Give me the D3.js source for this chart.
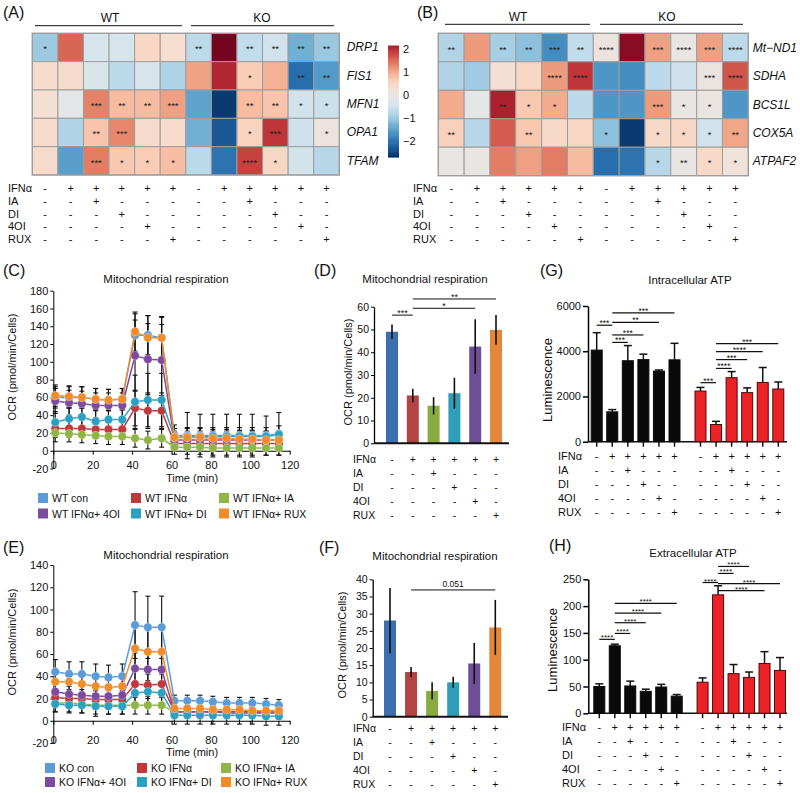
<!DOCTYPE html>
<html>
<head>
<meta charset="utf-8">
<script src="https://cdn.jsdelivr.net/npm/d3@7"></script>
<style>
  body { margin: 0; background: #fff; }
  svg { display: block; font-family: Arial, "Liberation Sans", sans-serif; }
</style>
</head>
<body>
<div id="fig"></div>
<script>
// ---------- data ----------
const conditions = ["IFNα", "IA", "DI", "4OI", "RUX"];
const signs = [
  ["-", "+", "+", "+", "+", "+"],
  ["-", "-", "+", "-", "-", "-"],
  ["-", "-", "-", "+", "-", "-"],
  ["-", "-", "-", "-", "+", "-"],
  ["-", "-", "-", "-", "-", "+"]
];
const signs12 = signs.map(r => r.concat(r));

// heatmap A (z-scores), columns: WT con..RUX, KO con..RUX
const genesA = ["DRP1", "FIS1", "MFN1", "OPA1", "TFAM"];
const zA = [
  [-0.97, 1.57, -0.38, -0.38, 0.49, 0.35, -0.7, 2.6, -0.65, -0.45, -1.3, -1.0],
  [0.4, 0.4, -0.3, -0.7, -0.35, -0.85, 1.08, 2.1, 0.65, 0.95, -2.05, -1.55],
  [0.3, -0.1, 1.35, 0.85, 0.85, 1.1, -1.45, -2.6, 0.85, 0.75, -0.45, -0.55],
  [0.4, -0.8, 0.75, 1.3, 0.4, 0.4, -1.3, -2.3, 0.55, 1.95, -0.5, 0.1],
  [0.4, -1.5, 1.4, 0.7, 0.65, 0.82, -0.72, -2.0, 1.85, 0.5, -0.42, -0.75]
];
const starsA = [
  ["*", "", "", "", "", "", "**", "", "**", "**", "**", "**"],
  ["", "", "", "", "", "", "", "", "*", "", "**", "**"],
  ["", "", "***", "**", "**", "***", "", "", "**", "**", "*", "*"],
  ["", "", "**", "***", "", "", "", "", "*", "***", "", "*"],
  ["", "", "***", "*", "*", "*", "", "", "****", "*", "", ""]
];

// heatmap B
const genesB = ["Mt\u2212ND1", "SDHA", "BCS1L", "COX5A", "ATPAF2"];
const zB = [
  [-0.8, 1.15, -0.9, -1.1, -1.7, -0.65, 0.1, 2.45, 1.1, 0.0, 1.1, -0.7],
  [-0.8, -0.95, 0.3, 0.5, 1.15, 1.95, -1.6, -1.7, -0.7, -0.5, 0.05, 1.7],
  [1.0, -0.1, 2.15, 0.7, 1.0, -0.7, -1.6, -1.6, 1.15, 0.0, 0.05, -1.6],
  [0.6, -0.75, 1.65, 0.7, 0.45, 0.5, -1.1, -2.6, 0.45, 0.5, -0.45, 1.05],
  [0.0, 0.0, 1.4, 1.1, 1.4, 0.85, -2.05, -2.0, -0.75, 0.0, 0.45, 0.2]
];
const starsB = [
  ["**", "", "**", "**", "***", "**", "****", "", "***", "****", "***", "****"],
  ["", "", "", "", "****", "****", "", "", "", "", "***", "****"],
  ["", "", "**", "*", "*", "", "", "", "***", "*", "*", ""],
  ["**", "", "", "**", "", "", "*", "", "*", "*", "*", "**"],
  ["", "", "", "", "", "", "", "", "*", "**", "*", "*"]
];
const colorbarTicks = [2, 1, 0, -1, -2];

// Seahorse time courses (min)
const times = [1, 8, 14.5, 21.5, 28, 35, 41.5, 48, 55, 61.5, 68, 74.5, 81, 88, 94.5, 101, 108, 114.5];
const groupNames = ["con", "IFNα", "IFNα+ IA", "IFNα+ 4OI", "IFNα+ DI", "IFNα+ RUX"];

const wtCon = [60, 60, 60, 58, 57, 58, 130, 130, 127, 17, 17, 17, 17, 17, 17, 17, 17, 19];
const wtIfn = [25, 25, 25, 24, 24, 24, 48, 45, 45, 8, 8, 8, 8, 8, 8, 8, 8, 8];
const wtIa = [20, 19, 18, 17, 16, 16, 14, 12, 14, 4, 4, 4, 3, 3, 3, 3, 3, 3];
const wt4oi = [56, 54, 53, 51, 51, 51, 107, 103, 102, 12, 12, 12, 12, 12, 12, 12, 12, 12];
const wtDi = [32, 36, 38, 33, 35, 35, 55, 57, 57, 15, 16, 16, 16, 16, 16, 16, 16, 18];
const wtRux = [62, 61, 60, 58, 57, 58, 134, 127, 127, 15, 15, 15, 14, 14, 13, 13, 12, 12];
const wtConErr = [12, 12, 12, 12, 12, 12, 24, 22, 24, 12, 26, 24, 24, 24, 24, 24, 22, 24];
const wtIfnErr = [10, 10, 10, 10, 10, 10, 20, 20, 20, 8, 8, 8, 8, 8, 8, 8, 8, 8];
const wtIaErr = [10, 9, 9, 9, 9, 9, 10, 10, 10, 8, 8, 8, 8, 8, 8, 8, 8, 8];
const wt4oiErr = [14, 14, 14, 14, 14, 14, 40, 40, 40, 10, 10, 10, 10, 10, 10, 10, 10, 10];
const wtDiErr = [12, 12, 12, 12, 12, 12, 30, 30, 30, 10, 10, 10, 10, 10, 10, 10, 10, 10];
const wtRuxErr = [12, 12, 12, 12, 12, 12, 22, 25, 23, 10, 10, 10, 10, 10, 10, 10, 10, 10];

const koCon = [44, 42, 42, 40, 39, 40, 86, 84, 84, 18, 18, 18, 17, 16, 16, 16, 15, 14];
const koIfn = [21, 20, 20, 19, 19, 19, 33, 32, 33, 8, 8, 8, 8, 7, 7, 7, 7, 7];
const koIa = [16, 16, 15, 14, 14, 14, 14, 14, 14, 8, 8, 8, 8, 8, 8, 8, 8, 8];
const ko4oi = [26, 24, 23, 22, 22, 23, 47, 46, 46, 8, 8, 8, 8, 8, 8, 8, 8, 8];
const koDi = [15, 14, 14, 13, 13, 13, 25, 26, 25, 5, 5, 5, 5, 5, 5, 5, 4, 4];
const koRux = [35, 35, 33, 31, 30, 31, 65, 62, 62, 11, 11, 11, 10, 10, 10, 9, 9, 9];
const koConErr = [11, 11, 11, 11, 11, 11, 30, 28, 28, 5, 5, 5, 5, 5, 5, 5, 5, 5];
const koIfnErr = [8, 8, 8, 8, 8, 8, 12, 12, 12, 5, 5, 5, 5, 5, 5, 5, 5, 5];
const koIaErr = [8, 8, 8, 8, 8, 8, 8, 8, 8, 5, 5, 5, 5, 5, 5, 5, 5, 5];
const ko4oiErr = [9, 9, 9, 9, 9, 9, 14, 14, 14, 6, 6, 6, 6, 6, 6, 6, 6, 6];
const koDiErr = [7, 7, 7, 9, 7, 7, 10, 10, 10, 8, 8, 8, 8, 8, 8, 8, 8, 8];
const koRuxErr = [10, 10, 10, 10, 10, 10, 20, 20, 20, 6, 6, 6, 6, 6, 6, 6, 6, 6];

// bar charts
const ocrWT = [49, 21, 16.5, 22, 42.5, 49.8];
const ocrWTErr = [3.2, 3, 3.8, 6.8, 12, 6.5];
const ocrKO = [28, 13, 7.5, 10, 15.5, 26];
const ocrKOErr = [9.5, 1.5, 2.5, 1.6, 6, 8];
const atpIn = [4050, 1320, 3580, 3630, 3120, 3620, 2240, 760, 2830, 2170, 2620, 2330];
const atpInErr = [770, 100, 670, 240, 50, 730, 160, 140, 270, 210, 660, 310];
const atpEx = [50, 126, 51, 41, 49, 32, 58, 221, 74, 67, 93, 80];
const atpExErr = [5, 3, 9, 4, 5, 3, 8, 17, 17, 10, 22, 24];

// significance brackets: [from bar, to bar, height (data units), label]
const sigD = [[0, 1, 56.3, "***"], [1, 4, 59.3, "*"], [1, 5, 63.4, "**"]];
const sigF = [[1, 5, 36.9, "0.051"]];
const sigG = [[1, 5, 5700, "***"], [1, 4, 5280, "**"], [0, 1, 5150, "***"], [1, 3, 4720, "***"],
  [1, 2, 4390, "***"], [7, 11, 4340, "***"], [7, 10, 3980, "****"], [7, 9, 3630, "***"],
  [7, 8, 3240, "****"], [6, 7, 2610, "***"]];
const sigH = [[0, 1, 138, "****"], [1, 2, 149, "****"], [1, 3, 169, "****"], [1, 4, 187, "****"],
  [1, 5, 205, "****"], [6, 7, 244, "****"], [7, 9, 274, "****"], [7, 8, 261, "****"],
  [7, 11, 242, "****"], [7, 10, 229, "****"]];

// ---------- drawing ----------
const lineColors = ["#5b9bd8", "#c0383a", "#8db644", "#7c4a9e", "#2aa0c2", "#f08c2a"];
const barColors = ["#3d6eb0", "#b34444", "#8aab40", "#2f9eb8", "#6d4f97", "#e4873b"];

const svg = d3.select("#fig").append("svg")
    .attr("width", 800)
    .attr("height", 793);

function txt(x, y, s, size, opt = {}) {
  return svg.append("text")
      .attr("x", x).attr("y", y)
      .attr("font-size", size)
      .attr("fill", "#111")
      .attr("text-anchor", opt.anchor || "start")
      .attr("font-style", opt.italic ? "italic" : null)
      .text(s);
}
function vtxt(x, y, s, size) {
  svg.append("text")
      .attr("transform", `translate(${x},${y}) rotate(-90)`)
      .attr("text-anchor", "middle").attr("dy", "0.35em")
      .attr("font-size", size).attr("fill", "#111")
      .text(s);
}
function hline(x1, x2, y, w = 1) {
  svg.append("line").attr("x1", x1).attr("x2", x2).attr("y1", y).attr("y2", y)
      .attr("stroke", "#111").attr("stroke-width", w);
}
function styleAxis(g, size) {
  g.attr("font-family", null).attr("font-size", size);
  g.selectAll("text").attr("fill", "#111");
}

// conditions table under a panel
function condTable(xPos, labelX, y0, step, sgn, size) {
  conditions.forEach((c, r) => {
    txt(labelX, y0 + r * step, c, size);
    sgn[r].forEach((s, i) => txt(xPos(i), y0 + r * step, s, size, {anchor: "middle"}));
  });
}

// heatmaps
const heatInterp = d3.interpolateRgbBasis(["#67001f", "#b2182b", "#d6604d", "#f4a582", "#fddbc7",
  "#e9e7e6", "#d1e5f0", "#92c5de", "#4393c3", "#2166ac", "#053061"]);
const heatColor = d3.scaleSequential(heatInterp).domain([2.7, -2.7]).clamp(true);

function heatmap(z, genes, stars, x0, x1, y0, y1, labelX) {
  const x = d3.scaleBand().domain(d3.range(12)).range([x0, x1]);
  const y = d3.scaleBand().domain(genes).range([y0, y1]);
  const g = svg.append("g");
  genes.forEach((gene, r) => {
    z[r].forEach((v, c) => {
      g.append("rect")
          .attr("x", x(c)).attr("y", y(gene))
          .attr("width", x.bandwidth()).attr("height", y.bandwidth())
          .attr("fill", heatColor(v))
          .attr("stroke", "#9d9d9d").attr("stroke-width", 1);
      if (stars[r][c]) {
        g.append("text")
            .attr("x", x(c) + x.bandwidth() / 2)
            .attr("y", y(gene) + y.bandwidth() / 2 + 5)
            .attr("text-anchor", "middle").attr("font-size", 9.5).attr("fill", "#222")
            .text(stars[r][c]);
      }
    });
    txt(labelX, y(gene) + y.bandwidth() / 2 + 4, gene, 12, {italic: true});
  });
  g.append("rect").attr("x", x0).attr("y", y0).attr("width", x1 - x0).attr("height", y1 - y0)
      .attr("fill", "none").attr("stroke", "#9d9d9d").attr("stroke-width", 1.2);
  return i => x(i) + x.bandwidth() / 2;
}

// panel A
txt(3, 18, "(A)", 16);
txt(110, 22, "WT", 12, {anchor: "middle"});
hline(35, 182, 25.7);
txt(262, 22, "KO", 12, {anchor: "middle"});
hline(191, 334, 25.7);
const colA = heatmap(zA, genesA, starsA, 32.3, 339.3, 33.3, 175, 346.7);
condTable(colA, 8, 192, 12.8, signs12, 11);

// colour bar
const cb = d3.scaleLinear().domain([-2.7, 2.15]).range([157, 45.5]);
d3.range(-2.7, 2.15, 0.05).forEach(v => {
  svg.append("rect").attr("x", 388).attr("width", 11)
      .attr("y", cb(v + 0.05)).attr("height", cb(v) - cb(v + 0.05) + 0.6)
      .attr("fill", heatColor(v + 0.025));
});
colorbarTicks.forEach(t => txt(403, cb(t) + 4, t < 0 ? "\u2212" + Math.abs(t) : String(t), 11));

// panel B
txt(417, 18, "(B)", 16);
txt(518, 21, "WT", 12, {anchor: "middle"});
hline(445, 590, 24.3);
txt(667, 21, "KO", 12, {anchor: "middle"});
hline(600, 743, 24.3);
const colB = heatmap(zB, genesB, starsB, 438.3, 748.3, 33.3, 175.7, 752.7);
condTable(colB, 413, 192, 12.8, signs12, 11);

// line charts
function lineChart(o) {
  const x = d3.scaleLinear().domain([0, 120]).range([53.3, 289.7]);
  const y = d3.scaleLinear().domain([-20, o.yMax]).range([o.yBottom, o.yTop]);
  const gy = svg.append("g").attr("transform", `translate(${x(0)},0)`)
      .call(d3.axisLeft(y).tickValues(d3.range(-20, o.yMax + 1, 20))
        .tickFormat(d => d < 0 ? "-" + Math.abs(d) : String(d))
        .tickSize(3).tickPadding(2).tickSizeOuter(0));
  styleAxis(gy, 11);
  const gx = svg.append("g").attr("transform", `translate(0,${y(0)})`)
      .call(d3.axisBottom(x).tickValues(d3.range(0, 121, 20))
        .tickSize(4).tickSizeOuter(0).tickPadding(y(-20) - y(0) - 11));
  styleAxis(gx, 11);

  const errG = svg.append("g").attr("stroke", "#111").attr("stroke-width", 1.1);
  o.order.forEach(k => {
    times.forEach((t, i) => {
      const v = o.values[k][i], e = o.errors[k][i];
      errG.append("line").attr("x1", x(t)).attr("x2", x(t)).attr("y1", y(v - e)).attr("y2", y(v + e));
      [v - e, v + e].forEach(w => errG.append("line")
          .attr("x1", x(t) - 2.5).attr("x2", x(t) + 2.5).attr("y1", y(w)).attr("y2", y(w)));
    });
  });
  const line = d3.line().x((d, i) => x(times[i])).y(d => y(d));
  o.order.forEach(k => {
    svg.append("path").datum(o.values[k])
        .attr("d", line).attr("fill", "none")
        .attr("stroke", lineColors[k]).attr("stroke-width", 1.5);
    svg.append("g").selectAll("circle").data(o.values[k]).join("circle")
        .attr("cx", (d, i) => x(times[i])).attr("cy", d => y(d)).attr("r", 4.3)
        .attr("fill", lineColors[k])
        .attr("stroke", "#fff").attr("stroke-width", 0.5).attr("stroke-opacity", 0.7);
  });

  txt(166, o.titleY, "Mitochondrial respiration", 11.5, {anchor: "middle"});
  txt(192, o.timeY, "Time (min)", 11, {anchor: "middle"});
  vtxt(12.5, o.labelY, "OCR (pmol/min/Cells)", 11);

  groupNames.forEach((n, k) => {
    const col = k % 3, row = Math.floor(k / 3);
    const lx = o.legX[col], ly = o.legY[row];
    svg.append("rect").attr("x", lx).attr("y", ly - 5).attr("width", 10).attr("height", 10)
        .attr("fill", lineColors[k]);
    txt(lx + 14, ly + 4, `${o.prefix} ${n}`, 10.5);
  });
}

txt(3, 276, "(C)", 16);
lineChart({
  values: [wtCon, wtIfn, wtIa, wt4oi, wtDi, wtRux],
  errors: [wtConErr, wtIfnErr, wtIaErr, wt4oiErr, wtDiErr, wtRuxErr],
  order: [0, 1, 3, 4, 2, 5],
  yMax: 180, yBottom: 468.5, yTop: 290.7,
  titleY: 283, timeY: 482, labelY: 367,
  legX: [38, 131, 219], legY: [498, 513.5], prefix: "WT"
});

txt(3, 553, "(E)", 16);
lineChart({
  values: [koCon, koIfn, koIa, ko4oi, koDi, koRux],
  errors: [koConErr, koIfnErr, koIaErr, ko4oiErr, koDiErr, koRuxErr],
  order: [0, 2, 1, 3, 4, 5],
  yMax: 140, yBottom: 743, yTop: 565,
  titleY: 559, timeY: 756, labelY: 642,
  legX: [45, 137, 221], legY: [768, 782], prefix: "KO"
});

// OCR bar charts (D, F)
function ocrBars(o) {
  const x = d3.scalePoint().domain(d3.range(6)).range([o.x0, o.x1]);
  const y = d3.scaleLinear().domain([0, o.yMax]).range([o.yBottom, o.yTop]);
  const gy = svg.append("g").attr("transform", `translate(${o.axisX},0)`)
      .call(d3.axisLeft(y).tickValues(d3.range(0, o.yMax + 1, o.step))
        .tickSize(3).tickPadding(2).tickSizeOuter(0));
  styleAxis(gy, 10.5);
  gy.select(".domain").attr("stroke-width", 1.3);
  o.values.forEach((v, i) => {
    svg.append("rect").attr("x", x(i) - 6).attr("width", 12)
        .attr("y", y(v)).attr("height", y(0) - y(v))
        .attr("fill", barColors[i]);
    svg.append("line").attr("x1", x(i)).attr("x2", x(i))
        .attr("y1", y(v - o.errors[i])).attr("y2", y(v + o.errors[i]))
        .attr("stroke", "#111").attr("stroke-width", 1.6);
  });
  hline(o.axisX, o.axisEnd, y(0), 2);
  o.sig.forEach(([a, b, h, s]) => {
    hline(x(a), x(b), y(h), 1);
    const isStar = s.startsWith("*");
    txt((x(a) + x(b)) / 2, y(h) + (isStar ? 1 : -3), s, isStar ? 9 : 8.5, {anchor: "middle"});
  });
  txt(o.titleX, o.titleY, "Mitochondrial respiration", 11.5, {anchor: "middle"});
  vtxt(o.labelX, o.labelY, "OCR (pmol/min/Cells)", 11);
  condTable(x, 353, o.condY, 14, signs, 10.5);
}

txt(314, 276, "(D)", 16);
ocrBars({
  values: ocrWT, errors: ocrWTErr, sig: sigD,
  x0: 392, x1: 496, yMax: 60, step: 10, yBottom: 443.3, yTop: 306.7,
  axisX: 374, axisEnd: 509,
  titleX: 425, titleY: 283, labelX: 348, labelY: 372, condY: 463
});

txt(319, 553, "(F)", 16);
ocrBars({
  values: ocrKO, errors: ocrKOErr, sig: sigF,
  x0: 390, x1: 495.3, yMax: 40, step: 5, yBottom: 716.7, yTop: 579.3,
  axisX: 372.7, axisEnd: 508,
  titleX: 435, titleY: 560, labelX: 342, labelY: 645, condY: 732
});

// ATP bar charts (G, H)
function atpBars(o) {
  const pos = d3.scaleLinear().domain([0, 11.67]).range([o.x0, o.x1]);
  const xi = i => pos(i + (i > 5 ? 0.67 : 0));
  const y = d3.scaleLinear().domain([0, o.yMax]).range([o.yBottom, o.yTop]);
  const gy = svg.append("g").attr("transform", `translate(${o.axisX},0)`)
      .call(d3.axisLeft(y).tickValues(o.ticks).tickFormat(d3.format("d"))
        .tickSize(5).tickPadding(2).tickSizeOuter(0));
  styleAxis(gy, 11);
  gy.selectAll("line, path").attr("stroke-width", 1.5);
  hline(o.axisX, 787, y(0), 1.5);
  o.values.forEach((v, i) => {
    svg.append("line").attr("x1", xi(i)).attr("x2", xi(i)).attr("y1", y(0)).attr("y2", y(0) + 5)
        .attr("stroke", "#111").attr("stroke-width", 1.5);
    const eg = svg.append("g").attr("stroke", "#111").attr("stroke-width", 1.5);
    eg.append("line").attr("x1", xi(i)).attr("x2", xi(i)).attr("y1", y(v)).attr("y2", y(v + o.errors[i]));
    eg.append("line").attr("x1", xi(i) - 4).attr("x2", xi(i) + 4)
        .attr("y1", y(v + o.errors[i])).attr("y2", y(v + o.errors[i]));
    svg.append("rect").attr("x", xi(i) - 5.5).attr("width", 11)
        .attr("y", y(v)).attr("height", y(0) - y(v))
        .attr("fill", i < 6 ? "#0a0a0a" : "#ec2227")
        .attr("stroke", i < 6 ? "#0a0a0a" : "#4a0a0a").attr("stroke-width", 1);
  });
  o.sig.forEach(([a, b, h, s]) => {
    hline(xi(a), xi(b), y(h), 1.2);
    txt((xi(a) + xi(b)) / 2, y(h) + 1, s, o.sigSize, {anchor: "middle"});
  });
  txt(o.titleX, o.titleY, o.title, 11.5, {anchor: "middle"});
  vtxt(o.labelX, o.labelY, "Luminescence", 13);
  condTable(xi, o.condX, o.condY, 14, signs12, 11);
}

txt(540, 276, "(G)", 16);
atpBars({
  values: atpIn, errors: atpInErr, sig: sigG, title: "Intracellular ATP", sigSize: 8.5,
  x0: 596.7, x1: 778.3, yMax: 6000, ticks: [0, 2000, 4000, 6000],
  yBottom: 441.7, yTop: 306, axisX: 588,
  titleX: 690, titleY: 284, labelX: 547.5, labelY: 380, condX: 558, condY: 460
});

txt(549, 551, "(H)", 16);
atpBars({
  values: atpEx, errors: atpExErr, sig: sigH, title: "Extracellular ATP", sigSize: 8,
  x0: 599.3, x1: 780, yMax: 250, ticks: [0, 50, 100, 150, 200, 250],
  yBottom: 713.3, yTop: 579.3, axisX: 588.3,
  titleX: 693, titleY: 557, labelX: 552.5, labelY: 650, condX: 562, condY: 731
});
</script>
</body>
</html>
